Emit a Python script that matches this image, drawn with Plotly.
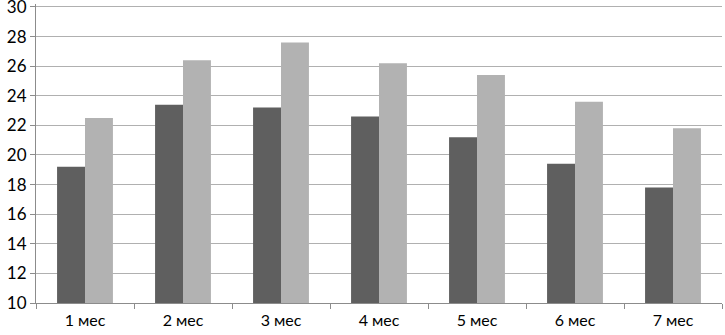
import plotly.graph_objects as go

categories = ["1 мес", "2 мес", "3 мес", "4 мес", "5 мес", "6 мес", "7 мес"]
series_dark = [19.2, 23.4, 23.2, 22.6, 21.2, 19.4, 17.8]
series_light = [22.5, 26.4, 27.6, 26.2, 25.4, 23.6, 21.8]
y_min, y_max, y_step = 10, 30, 2

fig = go.Figure()
fig.add_trace(go.Bar(x=categories, y=series_dark, marker=dict(color="#5f5f5f", line=dict(width=0)), showlegend=False))
fig.add_trace(go.Bar(x=categories, y=series_light, marker=dict(color="#b2b2b2", line=dict(width=0)), showlegend=False))

fig.update_layout(
    width=725, height=335,
    margin=dict(l=36, r=3, t=4, b=32),
    barmode="group", bargap=0.43, bargroupgap=0,
    plot_bgcolor="white", paper_bgcolor="white",
    font=dict(family="Lato, 'Open Sans', sans-serif", size=15, color="#000000"),
    xaxis=dict(
        type="category", tickson="boundaries", ticks="outside", ticklen=5,
        tickcolor="#8c8c8c", showline=True, linecolor="#8c8c8c", linewidth=1,
        showgrid=False, tickfont=dict(size=16), automargin=False,
        ticklabelstandoff=3, ticklabeloverflow="allow",
    ),
    yaxis=dict(
        range=[y_min, y_max + 0.2], tickmode="linear", tick0=y_min, dtick=y_step,
        ticks="outside", ticklen=5,
        tickcolor="#8c8c8c", showline=True, linecolor="#8c8c8c", linewidth=1,
        showgrid=True, gridcolor="#b0b0b0", gridwidth=1, zeroline=False,
        tickfont=dict(size=17), automargin=False, ticklabeloverflow="allow",
    ),
)

fig.write_html(
    "out.html",
    config={"displayModeBar": False},
    post_script="document.body.style.margin='0';document.body.style.padding='0';",
)
